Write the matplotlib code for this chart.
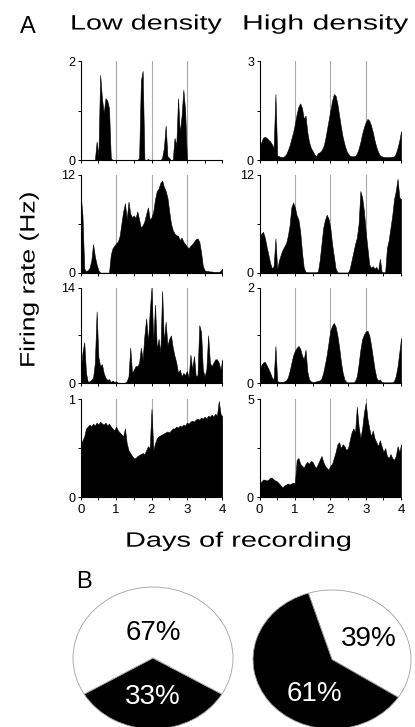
import numpy as np
import matplotlib
matplotlib.use("Agg")
import matplotlib.pyplot as plt
from matplotlib.patheffects import AbstractPathEffect
from matplotlib.transforms import Affine2D

plt.rcParams['font.family'] = ['Liberation Sans', 'DejaVu Sans']

W, H = 415, 727

# firing rate (Hz), one value every 0.05 day from day 0 to day 4
low_1 = [0, 0, 0, 0, 0, 0, 0, 0, 0, 0.38,
         0.10, 1.72, 1.25, 0.95, 1.25, 1.20, 1.05, 0.05, 0, 0,
         0, 0, 0, 0, 0, 0, 0, 0, 0, 0,
         0, 0, 0, 0.05, 1.60, 1.80, 0.02, 0, 0.03, 0,
         0, 0, 0, 0, 0, 0, 0.05, 0.25, 0.70, 0.08,
         0.05, 0, 0, 0.45, 0.30, 1.25, 0.55, 0.90, 1.42, 1.00,
         0.02, 0, 0, 0, 0, 0, 0, 0, 0, 0,
         0, 0, 0, 0, 0, 0, 0, 0, 0, 0,
         0]
low_2 = [9.5, 7.0, 0.5, 0.2, 0.3, 0.6, 1.5, 3.5, 2.0, 1.0,
         0.3, 0, 0, 0, 0, 0, 0, 2.2, 3.0, 3.3,
         3.6, 3.8, 4.5, 6.0, 7.5, 8.5, 6.5, 8.7, 7.2, 6.8,
         7.0, 6.7, 7.5, 6.5, 5.5, 5.8, 6.3, 7.2, 8.0, 6.5,
         6.8, 7.5, 9.0, 10.0, 10.3, 11.0, 11.3, 10.5, 10.0, 9.2,
         7.5, 6.0, 5.2, 4.8, 4.6, 4.5, 4.0, 4.3, 3.8, 3.5,
         3.2, 3.0, 3.3, 3.5, 3.8, 4.1, 4.2, 3.8, 2.5, 0.8,
         0.3, 0.2, 0.2, 0.15, 0.15, 0.1, 0.1, 0.1, 0.1, 0.2,
         0.5]
low_3 = [1.5, 4.5, 6.0, 1.5, 0.2, 0.3, 0.5, 0.8, 3.0, 10.5,
         3.8, 2.5, 2.8, 1.5, 0.8, 0.5, 0.6, 0.2, 0.4, 0.2,
         0.3, 0.1, 0.05, 0.05, 0.05, 0.1, 0.3, 1.0, 5.2, 1.5,
         2.0, 2.5, 2.5, 3.0, 5.2, 3.5, 7.0, 9.5, 6.0, 10.5,
         14.0, 6.0, 11.5, 5.0, 6.5, 4.5, 13.5, 6.0, 9.0, 5.5,
         6.5, 7.0, 5.2, 4.0, 3.0, 1.5, 2.0, 1.0, 1.5, 1.2,
         1.8, 0.8, 4.2, 2.0, 4.0, 1.0, 1.2, 8.5, 7.5, 2.0,
         1.0, 2.0, 7.0, 3.0, 2.5, 3.0, 3.5, 3.5, 3.0, 2.0,
         3.5]
low_4 = [0.52, 0.58, 0.62, 0.70, 0.72, 0.74, 0.72, 0.75, 0.73, 0.76,
         0.74, 0.77, 0.75, 0.74, 0.76, 0.73, 0.75, 0.72, 0.70, 0.68,
         0.72, 0.68, 0.66, 0.64, 0.62, 0.70, 0.55, 0.48, 0.45, 0.42,
         0.40, 0.40, 0.42, 0.43, 0.44, 0.45, 0.44, 0.48, 0.52, 0.50,
         0.90, 0.48, 0.55, 0.60, 0.62, 0.63, 0.64, 0.65, 0.66, 0.67,
         0.66, 0.68, 0.70, 0.70, 0.72, 0.71, 0.73, 0.72, 0.74, 0.73,
         0.76, 0.75, 0.77, 0.78, 0.77, 0.79, 0.80, 0.79, 0.81, 0.80,
         0.82, 0.80, 0.83, 0.82, 0.84, 0.82, 0.85, 0.83, 0.98, 0.85,
         0.82]

high_1 = [0.40, 0.55, 0.68, 0.71, 0.68, 0.62, 0.57, 0.48, 0.38, 2.00,
          0.15, 0.12, 0.10, 0.10, 0.12, 0.18, 0.30, 0.45, 0.65, 0.85,
          1.10, 1.40, 1.62, 1.72, 1.58, 1.25, 1.35, 0.85, 0.55, 0.38,
          0.28, 0.18, 0.12, 0.22, 0.24, 0.30, 0.40, 0.60, 0.90, 1.20,
          1.50, 1.80, 2.00, 1.95, 1.70, 1.35, 1.00, 0.70, 0.48, 0.30,
          0.20, 0.14, 0.12, 0.12, 0.13, 0.20, 0.35, 0.55, 0.80, 1.00,
          1.15, 1.25, 1.20, 1.05, 0.85, 0.60, 0.40, 0.25, 0.15, 0.12,
          0.10, 0.10, 0.09, 0.10, 0.10, 0.10, 0.12, 0.20, 0.38, 0.60,
          0.88]
high_2 = [4.5, 4.8, 5.0, 4.3, 3.2, 2.2, 1.2, 0.5, 0.8, 4.2,
          0.4, 1.5, 2.2, 2.8, 3.2, 3.6, 4.5, 5.8, 8.0, 8.6,
          8.0, 7.0, 6.5, 5.0, 2.5, 0.6, 0.1, 0.05, 0.05, 0.05,
          0.05, 0.05, 0.05, 0.1, 1.5, 3.5, 5.5, 6.5, 7.1, 6.6,
          5.5, 3.5, 2.0, 0.5, 0.05, 0.02, 0.02, 0.02, 0.02, 0.02,
          0.02, 0.5, 1.5, 2.5, 3.5, 4.3, 6.0, 10.0, 9.2, 7.5,
          5.0, 3.0, 1.0, 0.6, 0.8, 0.5, 0.7, 0.2, 1.7, 0.1,
          0.05, 0.05, 3.0, 4.0, 5.5, 7.0, 9.0, 10.0, 11.5, 9.2,
          9.0]
high_3 = [0.25, 0.38, 0.43, 0.45, 0.38, 0.30, 0.22, 0.12, 0.08, 0.78,
          0.05, 0.03, 0.03, 0.03, 0.04, 0.06, 0.12, 0.25, 0.42, 0.58,
          0.68, 0.74, 0.78, 0.72, 0.58, 0.50, 0.70, 0.25, 0.08, 0.04,
          0.03, 0.03, 0.04, 0.05, 0.06, 0.10, 0.22, 0.40, 0.60, 0.85,
          1.10, 1.20, 1.26, 1.18, 1.00, 0.75, 0.45, 0.22, 0.08, 0.03,
          0.02, 0.02, 0.02, 0.02, 0.05, 0.15, 0.40, 0.70, 0.92, 1.02,
          1.08, 1.10, 1.00, 0.80, 0.55, 0.30, 0.12, 0.06, 0.08, 0.03,
          0.02, 0.02, 0.02, 0.02, 0.02, 0.02, 0.05, 0.15, 0.35, 0.65,
          0.95]
high_4 = [0.6, 0.8, 0.9, 0.9, 0.85, 0.9, 1.0, 1.0, 0.9, 0.85,
          0.8, 0.7, 0.6, 0.5, 0.6, 0.65, 0.7, 0.65, 0.7, 0.75,
          0.7, 1.9, 2.0, 1.7, 1.6, 1.5, 1.7, 1.8, 1.7, 1.85,
          1.8, 1.6, 1.5, 1.7, 1.9, 2.1, 1.8, 1.6, 1.5, 1.4,
          1.6, 1.7, 2.0, 2.3, 2.7, 2.8, 2.5, 2.7, 2.6, 2.4,
          2.5, 2.9, 3.3, 3.5, 3.3, 4.6, 3.6, 3.0, 3.5, 4.3,
          4.8, 4.0, 3.5, 3.1, 3.4, 3.0, 2.8, 2.6, 2.9, 2.6,
          2.3, 2.5, 2.1, 2.0, 2.2, 2.0, 1.9, 2.1, 2.6, 2.3,
          2.7]

low_panels = [low_1, low_2, low_3, low_4]
high_panels = [high_1, high_2, high_3, high_4]
low_tops = [2, 12, 14, 1]
high_tops = [3, 12, 2, 5]
day_lines = [1, 2, 3]
step = 0.05

# percentage of cells, [black, white]
low_share = [33, 67]
high_share = [61, 39]


class Widen(AbstractPathEffect):
    # lettering in the original is set wider than plain Arial
    def __init__(self, sx):
        super().__init__()
        self.sx = sx

    def draw_path(self, renderer, gc, tpath, affine, rgbFace=None):
        renderer.draw_path(gc, tpath, Affine2D().scale(self.sx, 1) + affine, rgbFace)


def px_box(left, top, width, height):
    return [left / W, 1 - (top + height) / H, width / W, height / H]


fig = plt.figure(figsize=(W / 100, H / 100), dpi=100)

col_left = [80.7, 259.5]
col_width = 141.6
row_top = [61, 174.7, 287.5, 399]
row_height = [99.3, 98.0, 95.8, 98.3]

for c, (panels, tops) in enumerate([(low_panels, low_tops), (high_panels, high_tops)]):
    for r in range(4):
        ax = fig.add_axes(px_box(col_left[c], row_top[r], col_width, row_height[r]))
        rate = np.array(panels[r])
        days = np.arange(len(rate)) * step
        for d in day_lines:
            ax.axvline(d, color='#a8a8a8', lw=0.8, zorder=0)
        ax.fill_between(days, 0, rate, color='black', lw=0.4, zorder=2)
        ax.set_xlim(0, 4)
        ax.set_ylim(0, tops[r])
        ax.spines[['top', 'right']].set_visible(False)
        ax.spines[['left', 'bottom']].set_linewidth(0.8)
        ax.set_yticks([0, tops[r]])
        ax.set_yticks([tops[r] / 2], minor=True)
        ax.set_xticks(np.arange(5))
        ax.set_xticks(np.arange(0.5, 4, 1), minor=True)
        ax.tick_params(which='both', direction='out', length=2.5, width=0.7)
        ax.tick_params(axis='y', pad=1.5, labelsize=9)
        ax.tick_params(axis='x', pad=2, labelsize=9.5)
        if r < 3:
            ax.set_xticklabels([])

# titles and axis labels
fig.text(28 / W, 1 - 33 / H, 'A', fontsize=17, ha='center', va='baseline')
fig.text(70 / W, 1 - 29.5 / H, 'Low density', fontsize=15, ha='left', va='baseline',
         path_effects=[Widen(1.38)])
fig.text(242 / W, 1 - 29.5 / H, 'High density', fontsize=15, ha='left', va='baseline',
         path_effects=[Widen(1.45)])
fig.text(29 / W, 1 - 368 / H, 'Firing rate (Hz)', fontsize=15, rotation=90,
         ha='center', va='bottom', path_effects=[Widen(1.27)])
fig.text(125 / W, 1 - 546.7 / H, 'Days of recording', fontsize=15, ha='left', va='baseline',
         path_effects=[Widen(1.39)])
fig.text(84 / W, 1 - 588 / H, 'B', fontsize=17, ha='center', va='baseline')

# pies
edge = dict(edgecolor='#a0a0a0', linewidth=0.6)
ax = fig.add_axes(px_box(73, 587, 160, 142))
ax.pie(low_share, colors=['black', 'white'], startangle=270 - low_share[0] * 1.8,
       wedgeprops=edge)
ax.set_aspect('auto')
ax.set_xlim(-1, 1)
ax.set_ylim(-1, 1)
ax.text(0, 0.35, f'{low_share[1]}%', ha='center', va='center', fontsize=20)
ax.text(0, -0.55, f'{low_share[0]}%', ha='center', va='center', fontsize=20, color='white')

ax = fig.add_axes(px_box(253, 590, 158, 139))
ax.pie([high_share[1], high_share[0]], colors=['white', 'black'], startangle=-33,
       wedgeprops=edge)
ax.set_aspect('auto')
ax.set_xlim(-1, 1)
ax.set_ylim(-1, 1)
ax.text(0.46, 0.30, f'{high_share[1]}%', ha='center', va='center', fontsize=20)
ax.text(-0.22, -0.49, f'{high_share[0]}%', ha='center', va='center', fontsize=20, color='white')

fig.savefig('out.png', dpi=100)
